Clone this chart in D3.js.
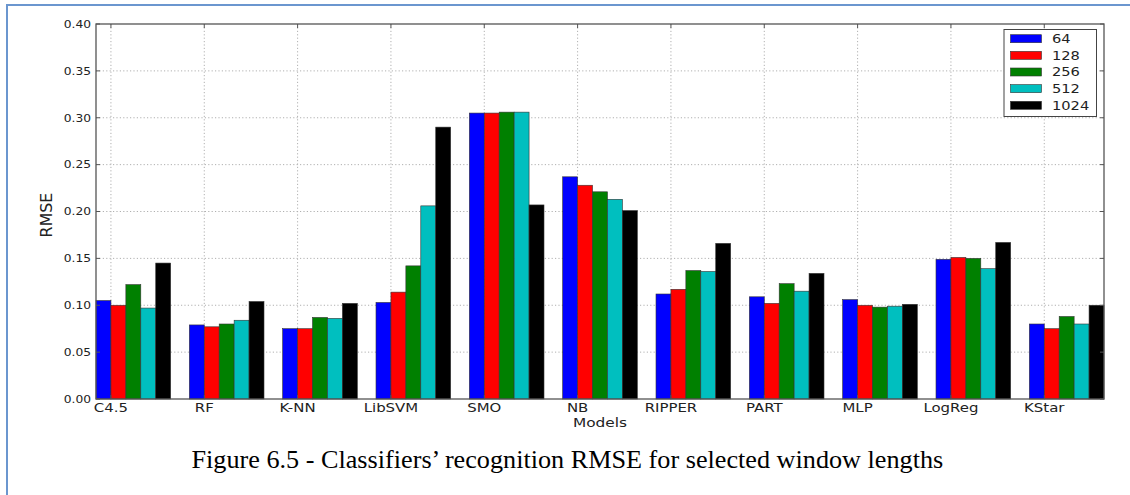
<!DOCTYPE html>
<html>
<head>
<meta charset="utf-8">
<script src="https://cdn.jsdelivr.net/npm/d3@7"></script>
<style>
  html, body { margin: 0; padding: 0; background: #fff; }
  svg { display: block; }
  text { font-family: "DejaVu Sans", sans-serif; fill: #222; }
  text.caption { font-family: "Liberation Serif", serif; fill: #000; }
</style>
</head>
<body>
<svg id="chart" width="1130" height="495"></svg>
<script>
// Classifier models and the window lengths compared
const categories = ["C4.5", "RF", "K-NN", "LibSVM", "SMO", "NB", "RIPPER", "PART", "MLP", "LogReg", "KStar"];
const windows = ["64", "128", "256", "512", "1024"];

// RMSE per model, one array per window length
const rmse64   = [0.105, 0.079, 0.075, 0.103, 0.305, 0.237, 0.112, 0.109, 0.106, 0.149, 0.080];
const rmse128  = [0.100, 0.077, 0.075, 0.114, 0.305, 0.228, 0.117, 0.102, 0.100, 0.151, 0.075];
const rmse256  = [0.122, 0.080, 0.087, 0.142, 0.306, 0.221, 0.137, 0.123, 0.098, 0.150, 0.088];
const rmse512  = [0.097, 0.084, 0.086, 0.206, 0.306, 0.213, 0.136, 0.115, 0.099, 0.139, 0.080];
const rmse1024 = [0.145, 0.104, 0.102, 0.290, 0.207, 0.201, 0.166, 0.134, 0.101, 0.167, 0.100];

const yTicks = [0.00, 0.05, 0.10, 0.15, 0.20, 0.25, 0.30, 0.35, 0.40];
const colors = ["#0000ff", "#ff0000", "#008000", "#00bfbf", "#000000"];
const seriesList = [rmse64, rmse128, rmse256, rmse512, rmse1024];

const caption = "Figure 6.5 - Classifiers\u2019 recognition RMSE for selected window lengths";

const svg = d3.select("#chart");
const W = 1130, H = 495;
const pL = 96, pR = 1104, pT = 24, pB = 399;
const barW = 0.16;

const x = d3.scaleLinear().domain([0, categories.length - 1 + 5 * barW]).range([pL, pR]);
const y = d3.scaleLinear().domain([0, 0.4]).range([pB, pT]);

// page frame (left and top edges)
svg.append("path")
  .attr("d", `M7,${H} L7,5 L${W},5`)
  .attr("fill", "none").attr("stroke", "#6b96cf").attr("stroke-width", 2);

// text helper: horizontally widened glyphs
function label(g, tx, ty, str, size, sx, anchor, rot) {
  return g.append("text")
    .attr("transform", `translate(${tx},${ty})` + (rot ? ` rotate(${rot})` : "") + ` scale(${sx[0]},${sx[1]})`)
    .attr("font-size", size)
    .attr("text-anchor", anchor)
    .text(str);
}

const plot = svg.append("g");

// grid
const xTickPos = categories.map((c, i) => i + barW);
plot.append("g").selectAll("line").data(yTicks.slice(1, -1)).join("line")
  .attr("x1", pL).attr("x2", pR)
  .attr("y1", d => y(d)).attr("y2", d => y(d))
  .attr("stroke", "#b0b0b0").attr("stroke-width", 1).attr("stroke-dasharray", "1.2,2.2");
plot.append("g").selectAll("line").data(xTickPos).join("line")
  .attr("x1", d => x(d)).attr("x2", d => x(d))
  .attr("y1", pT).attr("y2", pB)
  .attr("stroke", "#b0b0b0").attr("stroke-width", 1).attr("stroke-dasharray", "1.2,2.2");

// bars
seriesList.forEach((vals, j) => {
  plot.append("g").selectAll("rect").data(vals).join("rect")
    .attr("x", (d, i) => x(i + j * barW))
    .attr("width", x(barW) - x(0))
    .attr("y", d => y(d))
    .attr("height", d => y(0) - y(d))
    .attr("fill", colors[j])
    .attr("stroke", "#333").attr("stroke-width", 0.6);
});

// frame and inward ticks
plot.append("rect")
  .attr("x", pL).attr("y", pT).attr("width", pR - pL).attr("height", pB - pT)
  .attr("fill", "none").attr("stroke", "#555").attr("stroke-width", 1.3);
const tk = plot.append("g").attr("stroke", "#555").attr("stroke-width", 1);
yTicks.forEach(v => {
  tk.append("line").attr("x1", pL).attr("x2", pL + 4).attr("y1", y(v)).attr("y2", y(v));
  tk.append("line").attr("x1", pR).attr("x2", pR - 4).attr("y1", y(v)).attr("y2", y(v));
});
xTickPos.forEach(v => {
  tk.append("line").attr("x1", x(v)).attr("x2", x(v)).attr("y1", pB).attr("y2", pB - 4);
  tk.append("line").attr("x1", x(v)).attr("x2", x(v)).attr("y1", pT).attr("y2", pT + 4);
});

// y tick labels
const fmt = d3.format(".2f");
yTicks.forEach(v => {
  label(plot, 91, y(v) + 3.8, fmt(v), 10.5, [1.17, 1], "end");
});

// x tick labels
categories.forEach((c, i) => {
  label(plot, x(i + barW), 412, c, 11.5, [1.3, 1], "middle");
});

// axis titles
label(plot, 600, 427, "Models", 12, [1.28, 1], "middle");
label(plot, 52, 215, "RMSE", 13, [1.22, 1.26], "middle", -90);

// legend
const lg = svg.append("g");
lg.append("rect").attr("x", 1004).attr("y", 29.5).attr("width", 92.5).attr("height", 87)
  .attr("fill", "#fff").attr("stroke", "#444").attr("stroke-width", 1);
windows.forEach((w, j) => {
  const cy = 38.7 + j * 16.65;
  lg.append("rect").attr("x", 1010.5).attr("y", cy - 4).attr("width", 31).attr("height", 8)
    .attr("fill", colors[j]).attr("stroke", "#333").attr("stroke-width", 0.6);
  label(lg, 1052, cy + 4.3, w, 12, [1.22, 1], "start");
});

// caption, fitted to its printed width
const cap = svg.append("text")
  .attr("class", "caption")
  .attr("x", 0).attr("y", 0)
  .attr("font-size", 25.5)
  .text(caption);
const natural = cap.node().getComputedTextLength();
const sc = 752 / natural;
cap.attr("transform", `translate(191.5,468) scale(${sc},1)`);
</script>
</body>
</html>
